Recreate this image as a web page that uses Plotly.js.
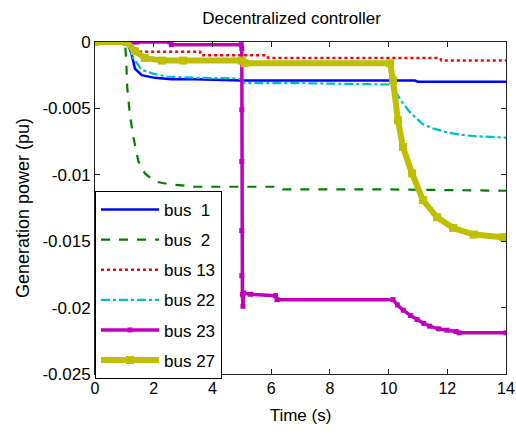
<!DOCTYPE html>
<html>
<head>
<meta charset="utf-8">
<script src="https://cdn.plot.ly/plotly-3.0.1.min.js"></script>
<style>html,body{margin:0;padding:0;background:#fff;}#chart{width:516px;height:434px;}</style>
</head>
<body>
<div id="chart"></div>
<script>
// ---- data ----
const t1   = [0, 1.1, 1.25, 1.36, 1.59, 2.04, 2.6, 3.4, 5.0, 7.0, 10.9, 11.0, 14];
const bus1 = [0, 0, -0.00095, -0.002, -0.0025, -0.0027, -0.0028, -0.0028, -0.0029, -0.0029, -0.0029, -0.003, -0.003];

const t2   = [0, 0.3, 0.9, 1.02, 1.06, 1.10, 1.19, 1.31, 1.48, 1.70, 2.04, 2.49, 3.4, 6.3, 6.4, 10, 14];
const bus2 = [0, -0.0001, -0.0001, 0, -0.0012, -0.0035, -0.0055, -0.0072, -0.009, -0.0099, -0.0105, -0.0107, -0.0109, -0.0109, -0.0111, -0.0111, -0.0112];

const t13   = [0, 1.15, 1.3, 1.5, 3.58, 3.6, 5.86, 5.9, 11.75, 11.8, 14];
const bus13 = [0, 0, -0.0003, -0.00073, -0.00073, -0.001, -0.001, -0.0012, -0.0012, -0.0014, -0.0014];

const t22   = [0, 0.3, 1.0, 1.1, 1.3, 1.59, 2.0, 2.45, 3.5, 4.7, 5.0, 5.1, 7.0, 10.05, 10.2, 10.45, 10.73, 11.17, 11.5, 11.99, 12.5, 13.0, 14];
const bus22 = [0, -0.0001, -0.0001, 0, -0.0012, -0.0021, -0.0024, -0.0026, -0.0027, -0.00273, -0.0028, -0.0031, -0.0031, -0.0032, -0.0036, -0.0045, -0.0053, -0.0062, -0.0065, -0.0068, -0.007, -0.0071, -0.0072];

const t23   = [0, 1.35, 1.43, 2.55, 2.6, 4.98, 5.0, 5.0, 5.0, 5.0, 5.0, 5.02, 5.04, 5.06, 5.3, 6.15, 6.2, 10.15, 10.3, 10.5, 10.75, 10.97, 11.2, 11.4, 11.7, 11.99, 12.3, 12.4, 14];
const bus23 = [0, 0, 0, 0, -0.0002, -0.0002, -0.0005, -0.0051, -0.009, -0.0142, -0.0176, -0.019, -0.0199, -0.0189, -0.019, -0.0191, -0.0194, -0.0194, -0.0198, -0.0202, -0.0206, -0.0209, -0.0212, -0.0214, -0.0216, -0.0217, -0.0218, -0.0219, -0.0219];

const t27   = [0, 1.08, 1.36, 1.7, 2.28, 3.0, 5.0, 5.1, 10.05, 10.15, 10.32, 10.49, 10.8, 11.17, 11.65, 12.2, 12.9, 13.9, 14];
const bus27 = [0, 0, -0.0007, -0.0012, -0.0014, -0.0014, -0.0014, -0.0016, -0.0016, -0.0029, -0.0059, -0.0079, -0.0099, -0.0119, -0.0132, -0.014, -0.0145, -0.0147, -0.0147];

const names = ['bus\u00a0\u00a01', 'bus\u00a0\u00a02', 'bus 13', 'bus 22', 'bus 23', 'bus 27'];
const xTicks = [0, 2, 4, 6, 8, 10, 12, 14];
const yTicks = [0, -0.005, -0.01, -0.015, -0.02, -0.025];
const yTickText = ['0', '-0.005', '-0.01', '-0.015', '-0.02', '-0.025'];

const traces = [
  {x: t1, y: bus1, name: names[0], legendgroup: 'a', mode: 'lines', line: {color: '#0000ff', width: 2.5}},
  {x: t2, y: bus2, name: names[1], legendgroup: 'b', mode: 'lines', line: {color: '#008000', width: 2.2, dash: 'dash'}},
  {x: t13, y: bus13, name: names[2], legendgroup: 'c', mode: 'lines', line: {color: '#ff0000', width: 2.5, dash: 'dot'}},
  {x: t22, y: bus22, name: names[3], legendgroup: 'd', mode: 'lines', line: {color: '#00bfbf', width: 2.2, dash: 'dashdot'}},
  {x: t23, y: bus23, name: names[4], legendgroup: 'e', mode: 'lines+markers', line: {color: '#bf00bf', width: 3.5}, marker: {symbol: 'square', size: 5, color: '#bf00bf'}},
  {x: t27, y: bus27, name: names[5], legendgroup: 'f', mode: 'lines+markers', line: {color: '#bfbf00', width: 6}, marker: {symbol: 'square', size: 8, color: '#bfbf00'}}
];

const layout = {
  width: 516, height: 434,
  margin: {l: 95, r: 10, t: 42, b: 60},
  paper_bgcolor: '#fff', plot_bgcolor: '#fff',
  font: {family: 'Liberation Sans, Arial, sans-serif', size: 16, color: '#000'},
  title: {text: 'Decentralized controller', x: 0.565, xanchor: 'center', y: 0.958, yanchor: 'middle', font: {size: 17}},
  showlegend: true,
  legend: {x: 0, y: -0.015, xanchor: 'left', yanchor: 'bottom', bgcolor: '#fff', bordercolor: '#000', borderwidth: 1,
           font: {size: 17}, tracegroupgap: 5, traceorder: 'grouped', itemwidth: 58},
  xaxis: {range: [0, 14], tickvals: xTicks, ticktext: xTicks.map(String), ticks: 'inside', ticklen: 5, mirror: 'ticks',
          showline: true, linecolor: '#222', linewidth: 1, tickcolor: '#222', showgrid: false, zeroline: false,
          title: {text: 'Time (s)', standoff: 12, font: {size: 17}}},
  yaxis: {range: [-0.025, 0], tickvals: yTicks, ticktext: yTickText, ticks: 'inside', ticklen: 5, mirror: 'ticks',
          showline: true, linecolor: '#222', linewidth: 1, tickcolor: '#222', showgrid: false, zeroline: false,
          tickfont: {size: 17},
          title: {text: 'Generation power (pu)', standoff: 8, font: {size: 18}}}
};

Plotly.newPlot('chart', traces, layout, {displayModeBar: false, staticPlot: true});
</script>
</body>
</html>
